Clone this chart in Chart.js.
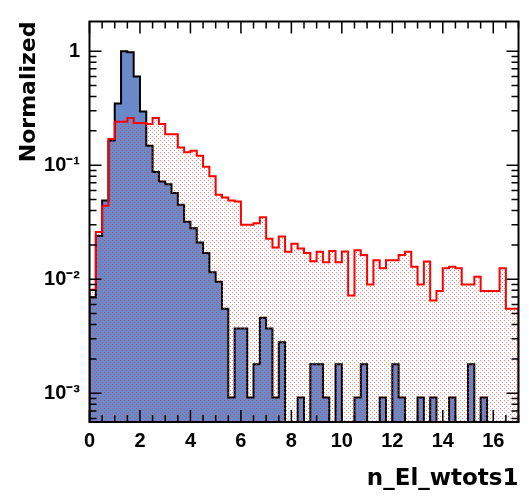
<!DOCTYPE html>
<html>
<head>
<meta charset="utf-8">
<script src="https://cdn.jsdelivr.net/npm/chart.js@4.4.1/dist/chart.umd.min.js"></script>
<style>
  body { margin: 0; background: #fff; }
  #plot { display: block; }
</style>
</head>
<body>
<canvas id="plot" width="529" height="500"></canvas>
<script>
// binning of n_El_wtots1 (68 bins of 0.25)
const xMin = 0, xMax = 17, binWidth = 0.25;
const xTicks = [0, 2, 4, 6, 8, 10, 12, 14, 16];
const yTicks = [0.001, 0.01, 0.1, 1];
const yTickLabels = ["10\u207B\u00B3", "10\u207B\u00B2", "10\u207B\u00B9", "1"];
const yMin = 5.6e-4, yMax = 1.82;

// signal (blue), normalized
const signal = [
  0.0015, 0.0069, 0.024, 0.049, 0.165, 0.348, 1.0, 0.98, 0.60, 0.295,
  0.148, 0.087, 0.072, 0.068, 0.057, 0.045, 0.032, 0.028, 0.021, 0.017,
  0.0115, 0.0095, 0.0055, 0.00092, 0.0037, 0.0037, 0.00092, 0.0018, 0.0046, 0.0037,
  0.00092, 0.0028, 0, 0, 0.00092, 0, 0.0018, 0.0018, 0.00092, 0,
  0.0018, 0, 0, 0.00092, 0.0018, 0, 0, 0.00092, 0, 0.0018,
  0.00092, 0, 0, 0.00092, 0, 0.00092, 0, 0, 0.00092, 0,
  0, 0.0018, 0, 0.00092, 0, 0, 0, 0
];

// background (red), normalized
const background = [
  0.0027, 0.0081, 0.026, 0.044, 0.17, 0.24, 0.24, 0.26, 0.235, 0.235,
  0.23, 0.26, 0.23, 0.187, 0.187, 0.143, 0.13, 0.134, 0.121, 0.097,
  0.08, 0.055, 0.052, 0.049, 0.048, 0.030, 0.030, 0.031, 0.035, 0.0226,
  0.019, 0.0237, 0.0174, 0.0205, 0.0186, 0.017, 0.0144, 0.0174, 0.0141, 0.0177,
  0.0141, 0.0175, 0.0072, 0.018, 0.0163, 0.009, 0.0147, 0.0125, 0.0147, 0.0147,
  0.0163, 0.0174, 0.0129, 0.009, 0.0143, 0.0065, 0.0079, 0.0125, 0.0129, 0.0125,
  0.009, 0.009, 0.0105, 0.0079, 0.0079, 0.0079, 0.0125, 0.0055
];

// histogram outline as step points; empty bins sit on the axis floor (log scale)
function stepPoints(vals) {
  let pts = [{x: xMin, y: yMin}];
  vals.forEach((v, i) => pts.push({x: xMin + i * binWidth, y: Math.max(v, yMin)}));
  let end = xMin + vals.length * binWidth;
  pts.push({x: end, y: Math.max(vals[vals.length - 1], yMin)});
  pts.push({x: end, y: yMin});
  return pts;
}

// dotted fill like ROOT's fill style
function dotPattern() {
  let c = document.createElement('canvas');
  c.width = 4; c.height = 4;
  let g = c.getContext('2d');
  g.fillStyle = 'rgba(235,60,60,0.6)';
  g.fillRect(0, 0, 1, 1);
  g.fillRect(2, 2, 1, 1);
  return g.createPattern(c, 'repeat');
}

const rootAxes = {
  id: 'rootAxes',
  afterDatasetsDraw(chart) {
    const {ctx, chartArea: a, scales: {x, y}} = chart;
    ctx.save();
    ctx.strokeStyle = '#000';
    ctx.lineWidth = 1.5;
    ctx.beginPath();
    for (let v = xMin; v <= xMax + 1e-9; v += 0.5) {
      let px = x.getPixelForValue(v);
      let len = (v % 2 === 0) ? 12 : 7;
      ctx.moveTo(px, a.bottom); ctx.lineTo(px, a.bottom - len);
      ctx.moveTo(px, a.top); ctx.lineTo(px, a.top + len);
    }
    for (let e = -4; e <= 0; e++) {
      for (let m = 1; m <= 9; m++) {
        let v = m * Math.pow(10, e);
        if (v < yMin || v > yMax) continue;
        let py = y.getPixelForValue(v);
        let len = m === 1 ? 12 : 7;
        ctx.moveTo(a.left, py); ctx.lineTo(a.left + len, py);
        ctx.moveTo(a.right, py); ctx.lineTo(a.right - len, py);
      }
    }
    ctx.stroke();
    ctx.lineWidth = 2;
    ctx.strokeRect(a.left, a.top, a.right - a.left, a.bottom - a.top);
    ctx.restore();
  }
};

Chart.defaults.font.family = "'Liberation Sans', Arial, sans-serif";
Chart.defaults.color = '#000';

new Chart(document.getElementById('plot'), {
  type: 'line',
  data: {
    datasets: [{
      label: 'background',
      data: stepPoints(background),
      stepped: 'after',
      borderColor: '#ff0000',
      borderWidth: 2,
      backgroundColor: dotPattern(),
      fill: 'start',
      pointRadius: 0
    }, {
      label: 'signal',
      data: stepPoints(signal),
      stepped: 'after',
      borderColor: '#000000',
      borderWidth: 2,
      backgroundColor: '#6a89c9',
      fill: 'start',
      pointRadius: 0
    }]
  },
  plugins: [rootAxes],
  options: {
    responsive: false,
    animation: false,
    layout: {padding: {left: 0, top: 13, right: 10.5, bottom: 0}},
    plugins: {legend: {display: false}, tooltip: {enabled: false}},
    scales: {
      x: {
        type: 'linear',
        min: xMin,
        max: xMax,
        grid: {display: false, drawTicks: false},
        border: {display: false},
        afterBuildTicks: s => { s.ticks = xTicks.map(v => ({value: v})); },
        afterFit: s => { s.height = 78; },
        ticks: {
          autoSkip: false, maxRotation: 0, padding: 7.5,
          font: {size: 20, weight: 'bold'}
        },
        title: {
          display: true, text: 'n_El_wtots1', align: 'end',
          font: {family: "'DejaVu Sans'", size: 23, weight: 'bold'},
          padding: {top: 0, bottom: 7}
        }
      },
      y: {
        type: 'logarithmic',
        min: yMin,
        max: yMax,
        grid: {display: false, drawTicks: false},
        border: {display: false},
        afterBuildTicks: s => { s.ticks = yTicks.map(v => ({value: v})); },
        afterFit: s => { s.width = 89.5; },
        ticks: {
          autoSkip: false, padding: 9.5,
          font: {size: 20, weight: 'bold'},
          callback: (v, i) => yTickLabels[i]
        },
        title: {
          display: true, text: 'Normalized', align: 'end',
          font: {family: "'DejaVu Sans'", size: 22, weight: 'bold'},
          padding: {top: 16, bottom: 0}
        }
      }
    }
  }
});
</script>
</body>
</html>
